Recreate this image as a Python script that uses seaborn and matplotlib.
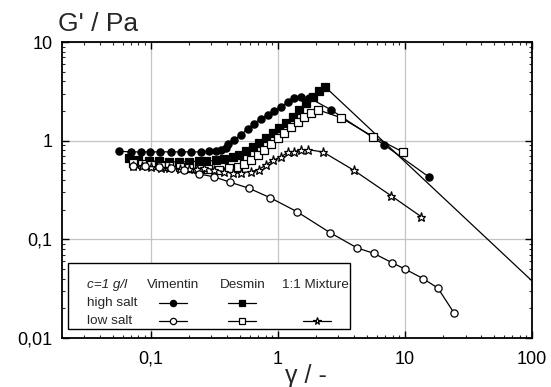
import numpy as np
import pandas as pd
import seaborn as sns
import matplotlib
matplotlib.use("Agg")
import matplotlib.pyplot as plt
from matplotlib.ticker import LogLocator, FixedLocator, FixedFormatter, NullFormatter
from matplotlib.patches import Rectangle
from matplotlib.lines import Line2D

# ---------------- data ----------------
vim_high_x = [0.056, 0.070, 0.083, 0.098, 0.118, 0.144, 0.172, 0.206, 0.248, 0.286, 0.325,
              0.356, 0.39, 0.404, 0.451, 0.512, 0.581, 0.647, 0.735, 0.834, 0.93, 1.06,
              1.20, 1.34, 1.52, 1.75, 2.61, 6.83, 15.4]
vim_high_y = [0.78, 0.77, 0.77, 0.77, 0.77, 0.77, 0.77, 0.77, 0.77, 0.78, 0.79,
              0.81, 0.85, 0.93, 1.02, 1.15, 1.32, 1.49, 1.67, 1.83, 2.01, 2.21,
              2.48, 2.73, 2.79, 2.73, 2.06, 0.91, 0.43]

vim_low_x = [0.072, 0.09, 0.115, 0.144, 0.182, 0.239, 0.314, 0.419, 0.59, 0.865, 1.41,
             2.57, 4.19, 5.70, 7.90, 10.0, 13.9, 18.2, 24.3]
vim_low_y = [0.56, 0.55, 0.54, 0.53, 0.50, 0.46, 0.43, 0.38, 0.33, 0.265, 0.191,
             0.117, 0.082, 0.072, 0.058, 0.050, 0.040, 0.032, 0.018]

des_high_x = [0.067, 0.080, 0.096, 0.116, 0.139, 0.166, 0.199, 0.239, 0.271, 0.325, 0.376,
              0.442, 0.493, 0.56, 0.636, 0.708, 0.805, 0.913, 1.02, 1.16, 1.31, 1.46,
              1.66, 1.89, 2.10, 2.35, 200.0]
des_high_y = [0.66, 0.63, 0.62, 0.62, 0.61, 0.61, 0.61, 0.62, 0.62, 0.63, 0.65,
              0.69, 0.72, 0.79, 0.87, 0.95, 1.07, 1.20, 1.35, 1.52, 1.75, 2.06,
              2.43, 2.79, 3.21, 3.52, 0.0164]

des_low_x = [0.072, 0.085, 0.10, 0.12, 0.14, 0.17, 0.20, 0.24, 0.281, 0.343, 0.411, 0.484,
             0.54, 0.613, 0.696, 0.776, 0.881, 1.0, 1.115, 1.27, 1.44, 1.60, 1.82, 2.06,
             3.13, 5.6, 9.6]
des_low_y = [0.60, 0.58, 0.57, 0.56, 0.55, 0.54, 0.53, 0.52, 0.52, 0.51, 0.53, 0.545,
             0.585, 0.64, 0.72, 0.81, 0.93, 1.07, 1.20, 1.39, 1.56, 1.75, 1.92, 2.06,
             1.71, 1.10, 0.77]

mix_low_x = [0.072, 0.085, 0.10, 0.12, 0.14, 0.17, 0.20, 0.23, 0.262, 0.313, 0.376, 0.44,
             0.512, 0.613, 0.708, 0.805, 0.913, 1.06, 1.20, 1.34, 1.52, 1.72, 2.26,
             3.97, 7.77, 13.4]
mix_low_y = [0.56, 0.55, 0.54, 0.53, 0.53, 0.52, 0.52, 0.52, 0.53, 0.51, 0.485, 0.47,
             0.475, 0.485, 0.51, 0.57, 0.63, 0.69, 0.76, 0.77, 0.81, 0.81, 0.77,
             0.50, 0.277, 0.17]

x_ticks = [0.1, 1, 10, 100]
x_tick_labels = ["0,1", "1", "10", "100"]
y_ticks = [0.01, 0.1, 1, 10]
y_tick_labels = ["0,01", "0,1", "1", "10"]

# ---------------- style ----------------
sns.set_theme(style="ticks")
plt.rcParams["font.family"] = ["Liberation Sans", "DejaVu Sans"]

fig = plt.figure(figsize=(5.51, 3.87), dpi=100)
ax = fig.add_axes([62 / 551, 1 - 338 / 387, 470 / 551, 296 / 387])

series = [
    (vim_high_x, vim_high_y, "o", "black"),
    (des_high_x, des_high_y, "s", "black"),
    (des_low_x, des_low_y, "s", "white"),
    (mix_low_x, mix_low_y, "*", "white"),
    (vim_low_x, vim_low_y, "o", "white"),
]
for xs, ys, mk, fc in series:
    df = pd.DataFrame({"x": xs, "y": ys})
    ms = 6.8 if mk == "*" else 5.2
    sns.lineplot(data=df, x="x", y="y", ax=ax, sort=False, estimator=None,
                 color="black", linewidth=0.9, marker=mk, markersize=ms,
                 markerfacecolor=fc, markeredgecolor="black", markeredgewidth=0.9)

ax.set_xscale("log")
ax.set_yscale("log")
ax.set_xlim(0.02, 100)
ax.set_ylim(0.01, 10)

ax.xaxis.set_major_locator(FixedLocator(x_ticks))
ax.xaxis.set_major_formatter(FixedFormatter(x_tick_labels))
ax.yaxis.set_major_locator(FixedLocator(y_ticks))
ax.yaxis.set_major_formatter(FixedFormatter(y_tick_labels))
ax.xaxis.set_minor_locator(LogLocator(base=10, subs=np.arange(2, 10), numticks=20))
ax.yaxis.set_minor_locator(LogLocator(base=10, subs=np.arange(2, 10), numticks=20))
ax.xaxis.set_minor_formatter(NullFormatter())
ax.yaxis.set_minor_formatter(NullFormatter())

ax.tick_params(which="major", direction="in", length=5, width=1.0, top=True, right=True,
               labelsize=13, colors="black")
ax.tick_params(axis="x", which="major", pad=9)
ax.tick_params(axis="y", which="major", pad=7)
ax.tick_params(which="minor", direction="in", length=2.5, width=0.8, top=True, right=True)

ax.grid(True, which="major", color="#c4c4c4", linewidth=0.9)
ax.set_axisbelow(True)
for s in ax.spines.values():
    s.set_color("black")
    s.set_linewidth(1.3)

ax.set_xlabel("")
ax.set_ylabel("")
fig.text(98 / 551, 1 - 24 / 387, "G' / Pa", fontsize=19, ha="center", va="center")
fig.text(306 / 551, 1 - 376 / 387, "γ / -", fontsize=18, ha="center", va="center")

# ---------------- legend table ----------------
T = ax.transAxes
ax.add_patch(Rectangle((0.0128, 0.030), 0.600, 0.223, transform=T, facecolor="white",
                       edgecolor="black", linewidth=1.0, zorder=5))
fs = 9.7
ax.text(0.053, 0.179, "c=1 g/l", transform=T, fontsize=fs, style="italic", va="center", zorder=6)
ax.text(0.053, 0.118, "high salt", transform=T, fontsize=fs, va="center", zorder=6)
ax.text(0.053, 0.057, "low salt", transform=T, fontsize=fs, va="center", zorder=6)
ax.text(0.236, 0.179, "Vimentin", transform=T, fontsize=fs, ha="center", va="center", zorder=6)
ax.text(0.385, 0.179, "Desmin", transform=T, fontsize=fs, ha="center", va="center", zorder=6)
ax.text(0.540, 0.179, "1:1 Mixture", transform=T, fontsize=fs, ha="center", va="center", zorder=6)

def sample(cx, cy, mk, fc):
    ax.add_line(Line2D([cx - 0.030, cx + 0.030], [cy, cy], transform=T, color="black",
                       linewidth=0.9, zorder=6))
    ax.add_line(Line2D([cx], [cy], transform=T, marker=mk, markersize=5.5 if mk == "*" else 4.5,
                       markerfacecolor=fc, markeredgecolor="black", markeredgewidth=0.9,
                       linestyle="none", zorder=7))

sample(0.236, 0.118, "o", "black")
sample(0.236, 0.057, "o", "white")
sample(0.383, 0.118, "s", "black")
sample(0.383, 0.057, "s", "white")
sample(0.543, 0.057, "*", "white")

fig.savefig("out.png", dpi=100)
